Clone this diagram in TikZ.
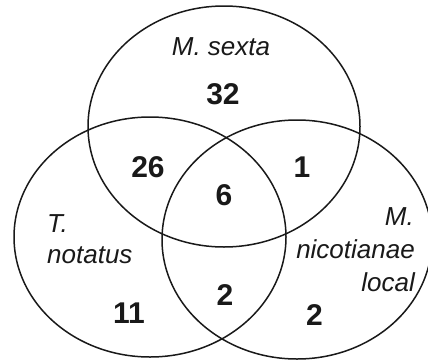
\documentclass[tikz,border=0pt]{standalone}
\usepackage{fontspec}
\setmainfont{Liberation Sans}
\usetikzlibrary{shapes.geometric}
\begin{document}
\begin{tikzpicture}[x=1pt,y=-1pt,
  setshape/.style={ellipse, draw=black!90, line width=1.5pt, inner sep=0pt},
  num/.style={font=\fontsize{30}{34}\selectfont\bfseries, inner sep=0pt, text=black!90},
  lab/.style={font=\fontsize{26}{31}\selectfont\itshape, inner sep=0pt, text=black!90}]
\useasboundingbox (0,0) rectangle (428,359);
\node[setshape, minimum width=272pt, minimum height=241pt] (sexta) at (224,126.5) {};
\node[setshape, minimum width=272pt, minimum height=240pt] (notatus) at (150,237) {};
\node[setshape, minimum width=270pt, minimum height=239pt] (nicot) at (297,239.5) {};
\node[lab, anchor=base] (lsexta) at (221,55) {M. sexta};
\node[lab, anchor=base west] (lT) at (47,232) {T.};
\node[lab, anchor=base west] (lnot) at (47,263) {notatus};
\node[lab, anchor=base east] (lM) at (414,225) {M.};
\node[lab, anchor=base east] (lnic) at (415,258) {nicotianae};
\node[lab, anchor=base east] (lloc) at (415,291) {local};
\node[num] (n32) at (223,94) {32};
\node[num] (n26) at (148,167) {26};
\node[num] (n1) at (302,167) {1};
\node[num] (n6) at (224,195) {6};
\node[num] (n11) at (129,313) {11};
\node[num] (n2a) at (225,295) {2};
\node[num] (n2b) at (314.5,315) {2};
\end{tikzpicture}
\end{document}
